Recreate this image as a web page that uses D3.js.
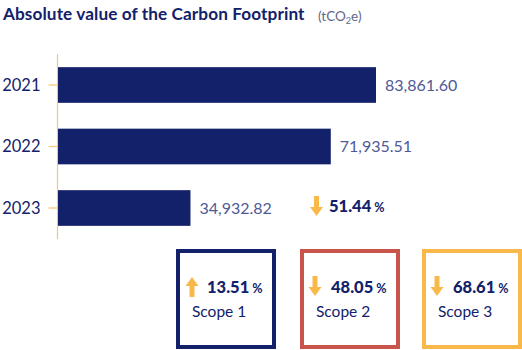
<!DOCTYPE html>
<html><head><meta charset="utf-8">
<script src="https://cdn.jsdelivr.net/npm/d3@7"></script>
<style>body{margin:0;background:#fff}svg{display:block;font-family:Lato,sans-serif}</style>
</head><body><svg id="c" width="522" height="350"></svg>
<script>
const years = ["2021","2022","2023"];
const footprint = [83861.60, 71935.51, 34932.82];
const footprintLabels = ["83,861.60","71,935.51","34,932.82"];
const totalChange = {value:"51.44", dir:"down"};
const scopes = ["Scope 1","Scope 2","Scope 3"];
const scopeChange = ["13.51","48.05","68.61"];
const scopeDir = ["up","down","down"];
const scopeColors = ["#13216a","#c9544b","#f9b94a"];

const navy="#13216a", arrowC="#f9b94a";
const svg=d3.select("#c");

svg.append("text").attr("x",3).attr("y",20).attr("font-size",17.2).attr("font-weight",700).attr("fill",navy).attr("letter-spacing",0.1).text("Absolute value of the Carbon Footprint");
const u=svg.append("text").attr("x",318).attr("y",21).attr("font-size",13.5).attr("fill","#62678a");
u.append("tspan").text("(tCO");
u.append("tspan").attr("font-size",9).attr("dy",3).text("2");
u.append("tspan").attr("dy",-3).text("e)");

const x=d3.scaleLinear().domain([0,83861.6]).range([58,376]);
const y=d3.scaleBand().domain(years).range([54,239]).paddingInner(0.42).paddingOuter(0.214);

const ax=svg.append("g").attr("transform","translate(57.5,0)").call(d3.axisLeft(y).tickSize(9).tickPadding(8));
ax.select(".domain").attr("stroke","#f9c56e").attr("stroke-width",1.2).attr("d","M0,54V239");
ax.selectAll(".tick line").attr("stroke","#f9c56e").attr("stroke-width",1.2);
ax.selectAll(".tick text").attr("font-family","Lato,sans-serif").attr("font-size",16.5).attr("fill",navy).attr("dy","0.36em");

svg.selectAll("rect.bar").data(years).join("rect").attr("class","bar")
 .attr("x",x(0)).attr("y",d=>y(d)).attr("width",(d,i)=>x(footprint[i])-x(0)).attr("height",y.bandwidth()).attr("fill",navy);
svg.selectAll("text.val").data(years).join("text").attr("class","val")
 .attr("x",(d,i)=>x(footprint[i])+9).attr("y",d=>y(d)+y.bandwidth()/2).attr("dy","0.36em")
 .attr("font-size",16).attr("font-weight",400).attr("fill","#4f5996").text((d,i)=>footprintLabels[i]);

function arrow(g,cx,top,dir){
  const w=13,h=20,sw=5,hh=9;
  let pts;
  if(dir==="down") pts=[[cx-sw/2,top],[cx+sw/2,top],[cx+sw/2,top+h-hh],[cx+w/2,top+h-hh],[cx,top+h],[cx-w/2,top+h-hh],[cx-sw/2,top+h-hh]];
  else pts=[[cx-sw/2,top+h],[cx+sw/2,top+h],[cx+sw/2,top+hh],[cx+w/2,top+hh],[cx,top],[cx-w/2,top+hh],[cx-sw/2,top+hh]];
  g.append("polygon").attr("points",pts.map(p=>p.join(",")).join(" ")).attr("fill",arrowC);
}
function pct(g,xx,yy,val){
  const t=g.append("text").attr("x",xx).attr("y",yy).attr("fill",navy);
  t.append("tspan").attr("font-size",16.5).attr("font-weight",900).text(val);
  t.append("tspan").attr("font-size",12.5).attr("font-weight",700).attr("dx",3).text("%");
}
const tg=svg.append("g");
arrow(tg,316.5,196,totalChange.dir);
pct(tg,329,212,totalChange.value);

const boxX=[176,300,422];
scopes.forEach((s,i)=>{
  const g=svg.append("g").attr("transform",`translate(${boxX[i]},249)`);
  g.append("rect").attr("x",2).attr("y",2).attr("width",96).attr("height",96).attr("fill","none").attr("stroke",scopeColors[i]).attr("stroke-width",4);
  arrow(g,i===0?16:15,i===0?28:27,scopeDir[i]);
  pct(g,31,44,scopeChange[i]);
  g.append("text").attr("x",16).attr("y",68).attr("font-size",15.5).attr("fill",navy).text(s);
});
</script></body></html>
